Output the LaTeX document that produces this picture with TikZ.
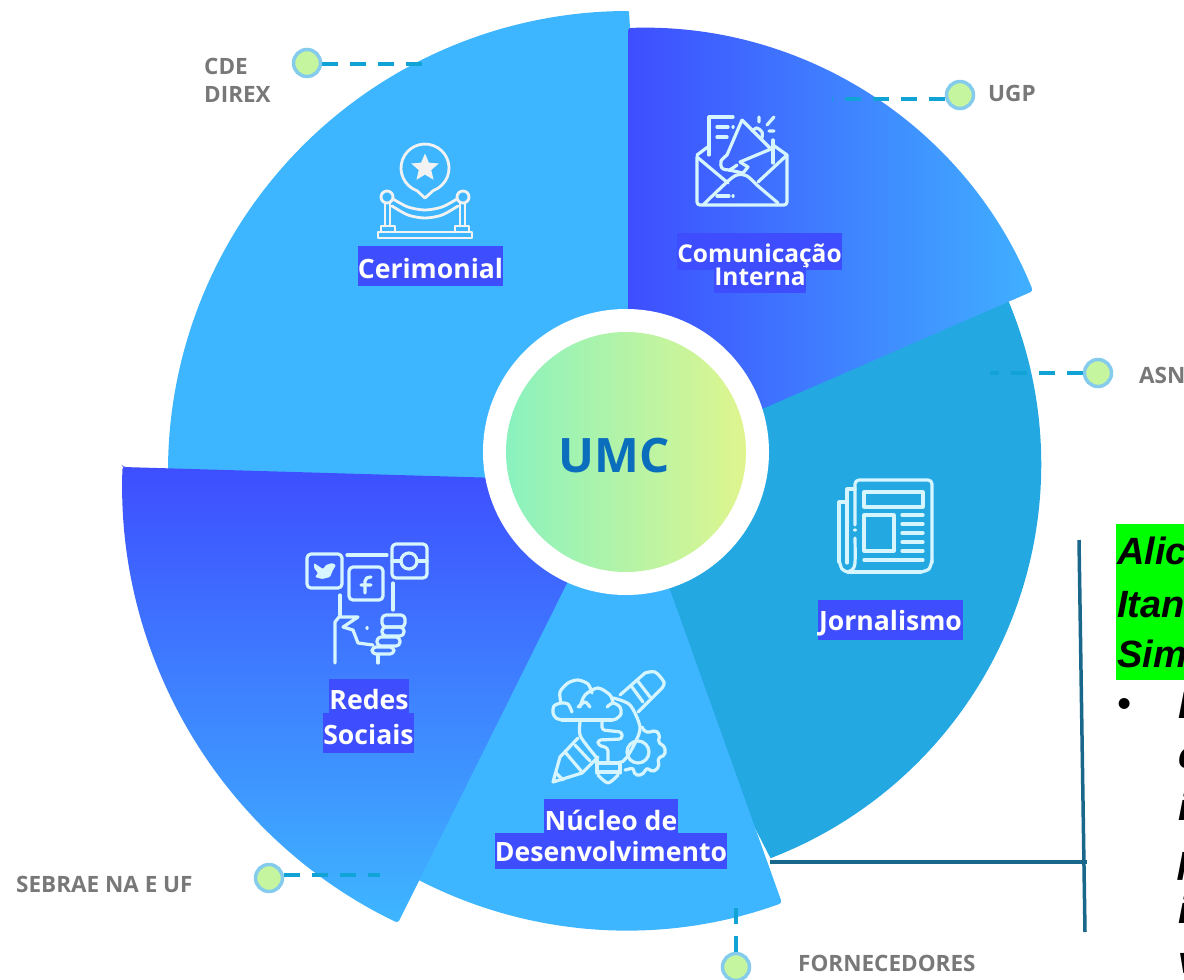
\documentclass[tikz,border=0pt]{standalone}
\usepackage{fontspec}
\setsansfont{Open Sans}
\newfontfamily\arialfont{Liberation Sans}
\usetikzlibrary{positioning,shapes.geometric}

\definecolor{skyblue}{HTML}{3EB6FF}
\definecolor{deepblue}{HTML}{3E4EFF}
\definecolor{paleblue}{HTML}{40B0FF}
\definecolor{midblue}{HTML}{23A8E2}
\definecolor{iconblue}{HTML}{D6F5FF}
\definecolor{iconwhite}{HTML}{F2F2F2}
\definecolor{dotgreen}{HTML}{C6F5A0}
\definecolor{dotring}{HTML}{85CCEC}
\definecolor{leaderblue}{HTML}{12A3D6}
\definecolor{stemblue}{HTML}{1A678C}
\definecolor{labelgray}{HTML}{787878}
\definecolor{umcblue}{HTML}{0A6EBD}
\definecolor{discleft}{HTML}{8AF2BE}
\definecolor{discright}{HTML}{DFF58E}

\begin{document}
\begin{tikzpicture}[x=1pt,y=-1pt,
	slice/.style={draw=none,rounded corners=3pt},
	title/.style={fill=deepblue,text=white,inner sep=0pt,font=\sffamily\bfseries\fontsize{26.6}{26.6}\selectfont},
	tag/.style={anchor=west,inner sep=0pt,text=labelgray,font=\sffamily\bfseries\fontsize{22.5}{22.5}\selectfont},
	dot/.style={circle,fill=dotgreen,draw=dotring,line width=3.5pt,minimum size=27pt,inner sep=0pt},
	leader/.style={leaderblue,line width=3.5pt,dash pattern=on 16pt off 12pt},
	stem/.style={stemblue,line width=3.5pt},
	icon/.style={draw=iconblue,line width=3.2pt,line cap=round,line join=round},
	side/.style={anchor=base west,inner sep=0pt,font=\arialfont\bfseries\itshape\fontsize{38}{38}\selectfont}]
	\useasboundingbox (0,0) rectangle (1184,980);
	\clip (0,0) rectangle (1184,980);

	% slices
	\path[fill=skyblue] (630,452) -- (630,28) -- (629,12) -- (628,11) arc[start angle=-90,end angle=-181,radius=460] -- (500,500) -- cycle;
	\path[fill=midblue] (600,452) -- (1008,300) arc[start angle=-22.9,end angle=69,radius=422] -- (720,760) -- cycle;
	\path[slice,fill=skyblue] (650,534) -- (782,903) arc[start angle=70.05,end angle=130,radius=454] -- (560,560) -- cycle;
	\path[slice,left color=deepblue,right color=paleblue] (628,28) arc[start angle=-92,end angle=-22,radius=421] -- (700,436) -- (628,400) -- cycle;
	\path[slice,top color=deepblue,bottom color=skyblue] (123,467) -- (500,478) -- (576,565) -- (398,923) arc[start angle=115.7,end angle=182.1,radius=487] -- cycle;

	% hub
	\node (hub) at (626,452) [circle,fill=white,minimum size=286pt,inner sep=0pt] {};
	\node (umc) at (626,452) [circle,left color=discleft,right color=discright,minimum size=240pt,inner sep=0pt] {};
	\node (umctext) at (614,456) [text=umcblue,inner sep=0pt,font=\sffamily\bfseries\fontsize{47.5}{47.5}\selectfont] {UMC};

	% cerimonial icon
	\begin{scope}[icon/.append style={draw=iconwhite,line width=2.8pt}]
		\draw[icon] (425,198) -- (416.8,190.6) arc[start angle=110,end angle=430,radius=24] -- cycle;
		\node (star1) at (425,168) [star,star points=5,star point ratio=2.2,fill=iconwhite,minimum size=29pt,inner sep=0pt] {};
		\draw[icon] (387,197) circle (6) (463,197) circle (6);
		\draw[icon] (385,203) -- (385,226) (390,203) -- (390,226) (460,203) -- (460,226) (465,203) -- (465,226);
		\draw[icon] (381,232) -- (381,226) -- (395,226) -- (395,232) (455,232) -- (455,226) -- (469,226) -- (469,232);
		\draw[icon] (378,232) rectangle (472,238);
		\draw[icon] plot[smooth] coordinates {(393,199) (408,207) (425,210) (442,207) (457,199)};
		\draw[icon] plot[smooth] coordinates {(392,206) (408,215) (425,218) (442,215) (458,206)};
	\end{scope}

	% comunicacao icon
	\draw[icon,rounded corners=3pt] (697,157) -- (697,205) -- (787,205) -- (787,155);
	\draw[icon] (697,155) -- (709,146) (787,155) -- (773,145);
	\draw[icon] (697,157) -- (728,183) (787,155) -- (758,182);
	\draw[icon] plot[smooth] coordinates {(703,205) (727,182) (737,175) (747,176) (758,186) (778,203)};
	\draw[icon] (709,155) -- (709,117) -- (733,117) (717,127) -- (728,127) (733,127) -- (733.1,127) (717,137) -- (727,137);
	\draw[icon] (773,140) -- (773,163) (717,196) -- (729,196) (733,196) -- (733.1,196);
	\draw[icon] (742,120) -- (771,149) -- (740,162) (742,120) -- (727,155);
	\draw[icon] plot[smooth] coordinates {(727,155) (721,161) (722,168) (729,170) (737,165)};
	\draw[icon] (729,170) -- (743,173) -- (748,167) -- (740,162);
	\draw[icon] plot[smooth] coordinates {(752,131) (757,128) (762,132) (762,138)};
	\draw[icon] (759,117) -- (759,122) (767,125) -- (774,117) (769,131) -- (774,131);

	% jornalismo icon
	\draw[icon,rounded corners=4pt] (855,525) -- (855,480) -- (932,480) -- (932,563);
	\draw[icon] plot[smooth] coordinates {(932,560) (929,569) (921,572)};
	\draw[icon] (921,572) -- (848,572);
	\draw[icon] (855,530) -- (855,530.1);
	\draw[icon] plot[smooth] coordinates {(855,538) (855,563) (852,570) (847,572)};
	\draw[icon] (855,489) -- (847,489) -- (847,563);
	\draw[icon] (847,502) -- (839,502) -- (839,562);
	\draw[icon] plot[smooth] coordinates {(839,560) (842,569) (848,572) (852,570)};
	\draw[icon] (864,492) rectangle (923,507);
	\draw[icon] (864,515) rectangle (894,551);
	\foreach \liney in {515,524,533,542,551,560}
		\draw[icon] (902,\liney) -- (923,\liney);
	\draw[icon] (864,560) -- (902,560);

	% redes icon
	\draw[icon,rounded corners=4pt] (307,554) rectangle (342,588);
	\draw[icon,rounded corners=4pt] (349,567) rectangle (383,600);
	\draw[icon,rounded corners=4pt] (392,544) rectangle (427,578);
	\draw[icon] (409,561) circle (8);
	\draw[icon] (392,561) -- (401,561) (417,561) -- (427,561);
	\draw[icon] (347,555) -- (387,555);
	\path[fill=iconblue,rounded corners=1pt] (314,563) -- (323,569) -- (326,565) -- (332,563) -- (336,565) -- (333,570) -- (330,577) -- (322,579) -- (315,577) -- (318,573) -- (314,568) -- cycle;
	\draw[icon] (365,593) -- (365,581) .. controls (365,578) and (368,577) .. (371,577) (361,585) -- (371,585);
	\draw[icon] (340,595) -- (340,615) (393,583) -- (393,610);
	\draw[icon] (335,663) -- (335,622) -- (339,617) -- (358,617) -- (343,627) -- (353,630) -- (358,643) -- (373,645);
	\draw[icon] (367,628) -- (367.1,628);
	\draw[icon,rounded corners=4pt] (382,615) rectangle (405,627);
	\draw[icon,rounded corners=4pt] (382,627) rectangle (404,636);
	\draw[icon,rounded corners=4pt] (377,637) rectangle (400,646);
	\draw[icon,rounded corners=4pt] (372,647) rectangle (394,654);
	\draw[icon] (378,655) -- (378,663);

	% nucleo icon
	\draw[icon] plot[smooth] coordinates {(572,712) (568,704) (561,703) (554,706) (553,713) (556,718) (562,720)};
	\draw[icon] (562,720) -- (612,720);
	\draw[icon] plot[smooth] coordinates {(561,703) (560,692) (568,683) (578,680) (588,684) (592,693)};
	\draw[icon] plot[smooth] coordinates {(580,707) (585,695) (598,688) (610,695) (613,703)};
	\draw[icon] plot[smooth] coordinates {(578,707) (585,702) (590,707)};
	\draw[icon] plot[smooth] coordinates {(607,707) (613,703) (620,707) (621,714) (616,719) (612,720)};
	\draw[icon] plot[smooth] coordinates {(613,698) (630,705) (640,727) (635,743) (627,757) (622,762)};
	\draw[icon] plot[smooth] coordinates {(580,722) (580,735) (588,747) (597,758)};
	\draw[icon] (597,760) -- (597,773) (620,762) -- (620,773) (597,763) -- (620,763) (597,772) -- (620,772);
	\draw[icon] plot[smooth] coordinates {(598,775) (608,783) (618,775)};
	\draw[icon,rounded corners=3pt] (602,720) -- (602,730) -- (622,732) -- (622,739) -- (598,740) -- (598,745) -- (608,748) -- (608,762);
	\draw[icon] (620,695) -- (645,673);
	\draw[icon] plot[smooth] coordinates {(645,673) (655,672) (664,682) (662,688)};
	\draw[icon] (662,688) -- (638,712) (632,687) -- (643,702) (637,680) -- (650,697);
	\draw[icon] (578,738) -- (560,757) -- (553,782) -- (582,773) -- (598,757);
	\draw[icon] (565,752) -- (582,772) (575,745) -- (590,761) (556,773) -- (563,780);
	\draw[icon] (638,752) circle (11);
	\draw[icon,rounded corners=2pt] (642,727) -- (645,732) -- (652,732) -- (655,730) -- (660,735) -- (658,742) -- (665,747) -- (665,755) -- (658,758) -- (659,767) -- (653,772) -- (647,768) -- (642,775) -- (635,775) -- (633,768) -- (625,770);

	% titles
	\node (cerimonial) at (430.5,266) [title,minimum width=145pt,text height=32pt,text depth=8pt] {Cerimonial};
	\node (comunic) at (759.5,251.5) [title,font=\sffamily\bfseries\fontsize{24.5}{24.5}\selectfont,minimum width=165pt,text height=29pt,text depth=8pt] {Comunicação};
	\node (interna) at (760,280) [title,font=\sffamily\bfseries\fontsize{24.5}{24.5}\selectfont,minimum width=90pt,text height=18pt,text depth=8pt] {Interna};
	\node (jornal) at (890.5,620) [title,minimum width=145pt,text height=30.5pt,text depth=9.5pt] {Jornalismo};
	\node (redes) at (369,696) [title,minimum width=80pt,text height=30pt,text depth=4pt] {Redes};
	\node (sociais) at (368.5,733) [title,minimum width=91pt,text height=31pt,text depth=9pt] {Sociais};
	\node (nucleo) at (611,817) [title,minimum width=134pt,text height=31pt,text depth=5pt] {Núcleo de};
	\node (desenv) at (611,851) [title,minimum width=232pt,text height=28pt,text depth=8pt] {Desenvolvimento};

	% outside labels
	\node (cde) at (204,66) [tag] {CDE};
	\node (direx) at (204,94.5) [tag] {DIREX};
	\node (ugp) at (988,93.5) [tag] {UGP};
	\node (asn) at (1139,375.5) [tag] {ASN};
	\node (sebrae) at (16,884.5) [tag] {SEBRAE NA E UF};
	\node (fornec) at (798,963.5) [tag] {FORNECEDORES};

	\node (dotcde) at (307,63) [dot] {};
	\node (dotugp) at (960,95) [dot] {};
	\node (dotasn) at (1098,373) [dot] {};
	\node (dotsebrae) at (269,878) [dot] {};
	\node (dotfornec) at (736,967) [dot] {};

	\coordinate (endcde) at (424,64);
	\coordinate (endugp) at (832,99);
	\coordinate (endasn) at (990,373);
	\coordinate (endsebrae) at (380,875);
	\coordinate (endfornec) at (736,897);

	\draw[leader] (dotcde.east |- endcde) -- (endcde);
	\draw[leader] (dotugp.west |- endugp) -- (endugp);
	\draw[leader] (dotasn.west) -- (endasn);
	\draw[leader] (dotsebrae.east |- endsebrae) -- (endsebrae);
	\draw[leader] (dotfornec.north) -- (endfornec);

	% bracket to the side text
	\coordinate (stemstart) at (770,862);
	\coordinate (stemjoin) at (1087,862);
	\coordinate (stemtop) at (1079,540);
	\coordinate (stembottom) at (1085,932);
	\draw[stem] (stemstart) -- (stemjoin);
	\draw[stem] (stemtop) -- (stembottom);

	% side text
	\path[fill=green] (1116,524) rectangle (1184,680);
	\node (side1) at (1117,564) [side] {Alic};
	\node (side2) at (1117,617) [side] {Itan};
	\node (side3) at (1117,667) [side] {Sim};
	\node (bullet) at (1117,716) [side] {•};
	\node (side4) at (1178,718) [side] {L};
	\node (side5) at (1178,768) [side] {c};
	\node (side6) at (1178,820) [side] {i};
	\node (side7) at (1178,872) [side] {p};
	\node (side8) at (1178,923) [side] {i};
	\node (side9) at (1178,973) [side] {v};
\end{tikzpicture}
\end{document}
